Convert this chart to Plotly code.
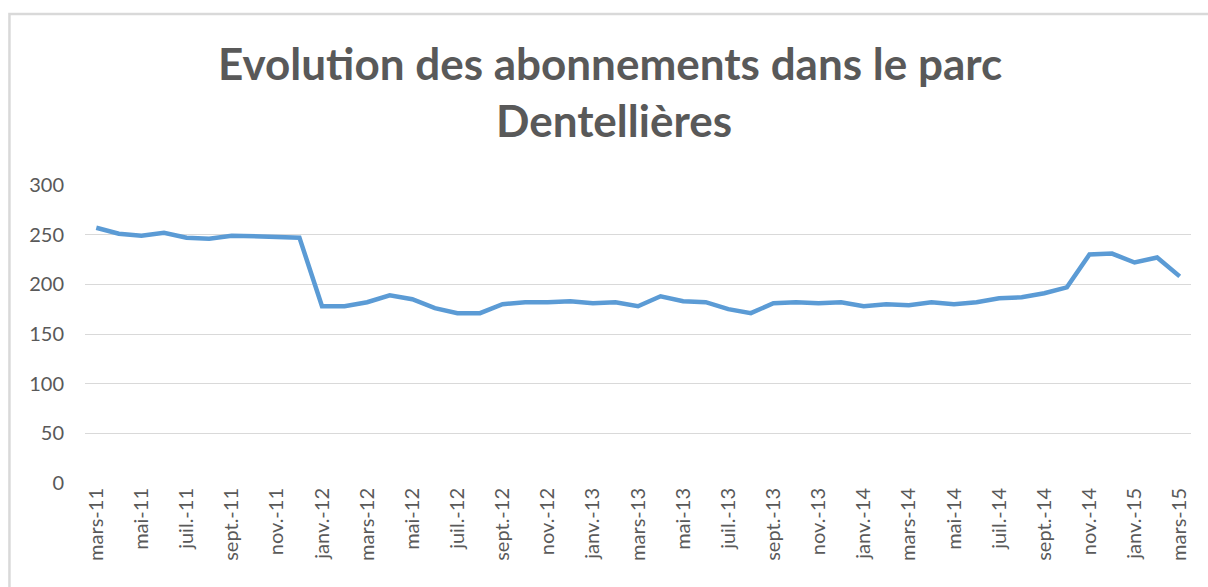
import plotly.graph_objects as go

months = ["mars", "avr.", "mai", "juin", "juil.", "août", "sept.", "oct.", "nov.", "déc.", "janv.", "févr."]
categories = []
for i in range(49):
    m = months[i % 12]
    yr = 11 + (i + 2) // 12
    categories.append(f"{m}-{yr}")

values = [257, 251, 249, 252, 247, 246, 249, 248, 248, 247,
          178, 178, 182, 189, 185, 176, 171, 171, 180, 182,
          182, 183, 181, 182, 178, 188, 183, 182, 175, 171,
          181, 182, 181, 182, 178, 180, 179, 182, 180, 182,
          186, 187, 191, 197, 230, 231, 222, 227, 208]

y_ticks = [0, 50, 100, 150, 200, 250, 300]
title_lines = ["Evolution des abonnements dans le parc", "Dentellières"]

x_idx = list(range(len(categories)))
tick_idx = x_idx[::2]
tick_txt = [categories[i] for i in tick_idx]

FONT = "Lato, Open Sans, sans-serif"
GREY = "#595959"

fig = go.Figure()
fig.add_trace(go.Scatter(
    x=x_idx, y=values, mode="lines",
    line=dict(color="#5B9BD5", width=4.5),
    hovertext=categories, hoverinfo="text+y",
))

fig.update_layout(
    width=1208, height=587,
    margin=dict(l=85, r=17, t=185, b=104, autoexpand=False),
    paper_bgcolor="white", plot_bgcolor="white",
    showlegend=False,
    font=dict(family=FONT, color=GREY),
    xaxis=dict(
        range=[-0.5, 48.5],
        tickmode="array", tickvals=tick_idx, ticktext=tick_txt,
        tickangle=-90, showgrid=False, zeroline=False,
        showline=False, ticks="", automargin=False,
        tickfont=dict(size=20, color=GREY, family=FONT),
    ),
    yaxis=dict(
        range=[0, 300], tickmode="array", tickvals=y_ticks,
        showgrid=True, gridcolor="#D9D9D9", gridwidth=1,
        zeroline=False, showline=False, ticks="", automargin=False,
        tickfont=dict(size=20, color=GREY, family=FONT),
        ticklabelstandoff=20,
    ),
    annotations=[
        dict(text=f"<b>{title_lines[0]}</b>", x=0.475, y=1.41, xref="paper", yref="paper",
             xanchor="center", yanchor="middle", showarrow=False,
             font=dict(size=44, color=GREY, family=FONT)),
        dict(text=f"<b>{title_lines[1]}</b>", x=0.478, y=1.218, xref="paper", yref="paper",
             xanchor="center", yanchor="middle", showarrow=False,
             font=dict(size=44, color=GREY, family=FONT)),
    ],
    shapes=[dict(type="rect", xref="paper", yref="paper",
                 x0=-0.0683, x1=1.1, y0=-0.5, y1=1.574,
                 line=dict(color="#D9D9D9", width=2.5), fillcolor="rgba(0,0,0,0)",
                 layer="below")],
)

fig.write_html("out.html", config={"displayModeBar": False},
               post_script="document.body.style.margin='0';document.body.style.overflow='hidden';")
